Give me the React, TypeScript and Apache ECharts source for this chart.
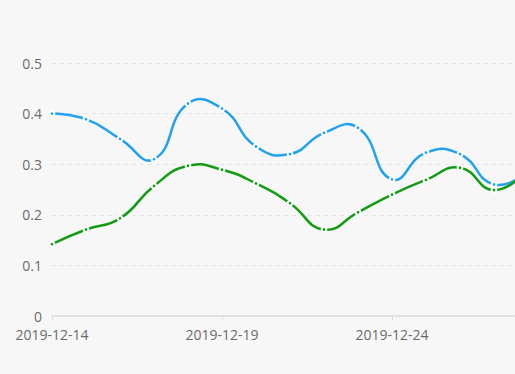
import React, { useEffect, useRef } from "react";
import * as echarts from "echarts";

const dates = [
  "2019-12-14", "2019-12-15", "2019-12-16", "2019-12-17", "2019-12-18",
  "2019-12-19", "2019-12-20", "2019-12-21", "2019-12-22", "2019-12-23",
  "2019-12-24", "2019-12-25", "2019-12-26", "2019-12-27", "2019-12-28",
];
const blueValues = [0.4, 0.389, 0.35, 0.31, 0.42, 0.41, 0.335, 0.32, 0.362, 0.372, 0.27, 0.323, 0.32, 0.26, 0.285];
const greenValues = [0.142, 0.171, 0.193, 0.257, 0.297, 0.289, 0.262, 0.223, 0.171, 0.205, 0.24, 0.269, 0.293, 0.249, 0.29];

const BLUE = "#21a1ef";
const GREEN = "#139c13";

type P = number[];

function smoothPath(pts: P[], smooth: number): string {
  let d = `M${pts[0][0]},${pts[0][1]}`;
  let cp0 = pts[0];
  for (let i = 1; i < pts.length; i++) {
    const p = pts[i];
    const prev = pts[i - 1];
    const next = pts[i + 1];
    let cp1 = p;
    let nextCp0 = p;
    if (next) {
      const vx = next[0] - prev[0];
      const vy = next[1] - prev[1];
      const lp = Math.hypot(p[0] - prev[0], p[1] - prev[1]);
      const ln = Math.hypot(next[0] - p[0], next[1] - p[1]);
      const r = ln / (ln + lp);
      cp1 = [p[0] - vx * smooth * (1 - r), p[1] - vy * smooth * (1 - r)];
      nextCp0 = [p[0] + vx * smooth * r, p[1] + vy * smooth * r];
    }
    d += ` C${cp0[0]},${cp0[1]} ${cp1[0]},${cp1[1]} ${p[0]},${p[1]}`;
    cp0 = nextCp0;
  }
  return d;
}

function lineSeries(name: string, values: number[], color: string) {
  return {
    name,
    type: "custom",
    data: values.map((v, i) => [i, v]),
    encode: { x: 0, y: 1 },
    renderItem: (params: any, api: any) => {
      if (params.dataIndex !== 0) return null;
      const pts = values.map((v, i) => api.coord([i, v]));
      const children: any[] = [
        {
          type: "path",
          shape: { pathData: smoothPath(pts, 0.5) },
          style: { fill: null, stroke: color, lineWidth: 2.5 },
        },
      ];
      pts.forEach((p) => {
        children.push({
          type: "circle",
          shape: { cx: p[0], cy: p[1], r: 2.4 },
          style: { fill: color, stroke: "#ffffff", lineWidth: 2 },
        });
      });
      return { type: "group", children };
    },
  };
}

export default function App() {
  const ref = useRef<HTMLDivElement>(null);
  useEffect(() => {
    document.body.style.margin = "0";
    document.body.style.background = "#f7f7f7";
    const chart = echarts.init(ref.current!, undefined, { renderer: "svg" });
    chart.setOption({
      animation: false,
      backgroundColor: "#f7f7f7",
      textStyle: { fontFamily: "Open Sans" },
      grid: { left: 52, right: 12, top: 63, bottom: 58 },
      xAxis: {
        type: "category",
        data: dates,
        boundaryGap: false,
        axisLine: { lineStyle: { color: "#dcdcdc", width: 1.5 } },
        axisTick: { interval: 4, length: 4, lineStyle: { color: "#dcdcdc" } },
        axisLabel: { interval: 4, color: "#6b6b6b", fontSize: 14, margin: 11, fontFamily: "Open Sans" },
      },
      yAxis: {
        type: "value",
        min: 0,
        max: 0.5,
        interval: 0.1,
        axisLine: { show: false },
        axisTick: { show: false },
        axisLabel: { color: "#6b6b6b", fontSize: 14, margin: 10, fontFamily: "Open Sans" },
        splitLine: { lineStyle: { color: "#e6e6e6", type: [4, 4] } },
      },
      series: [lineSeries("blue", blueValues, BLUE), lineSeries("green", greenValues, GREEN)],
    });
    return () => chart.dispose();
  }, []);
  return (
    <div style={{ position: "absolute", left: 0, top: 0, width: 515, height: 374, overflow: "hidden", background: "#f7f7f7" }}>
      <div ref={ref} style={{ position: "absolute", left: 0, top: 0, width: 540, height: 374 }} />
    </div>
  );
}
